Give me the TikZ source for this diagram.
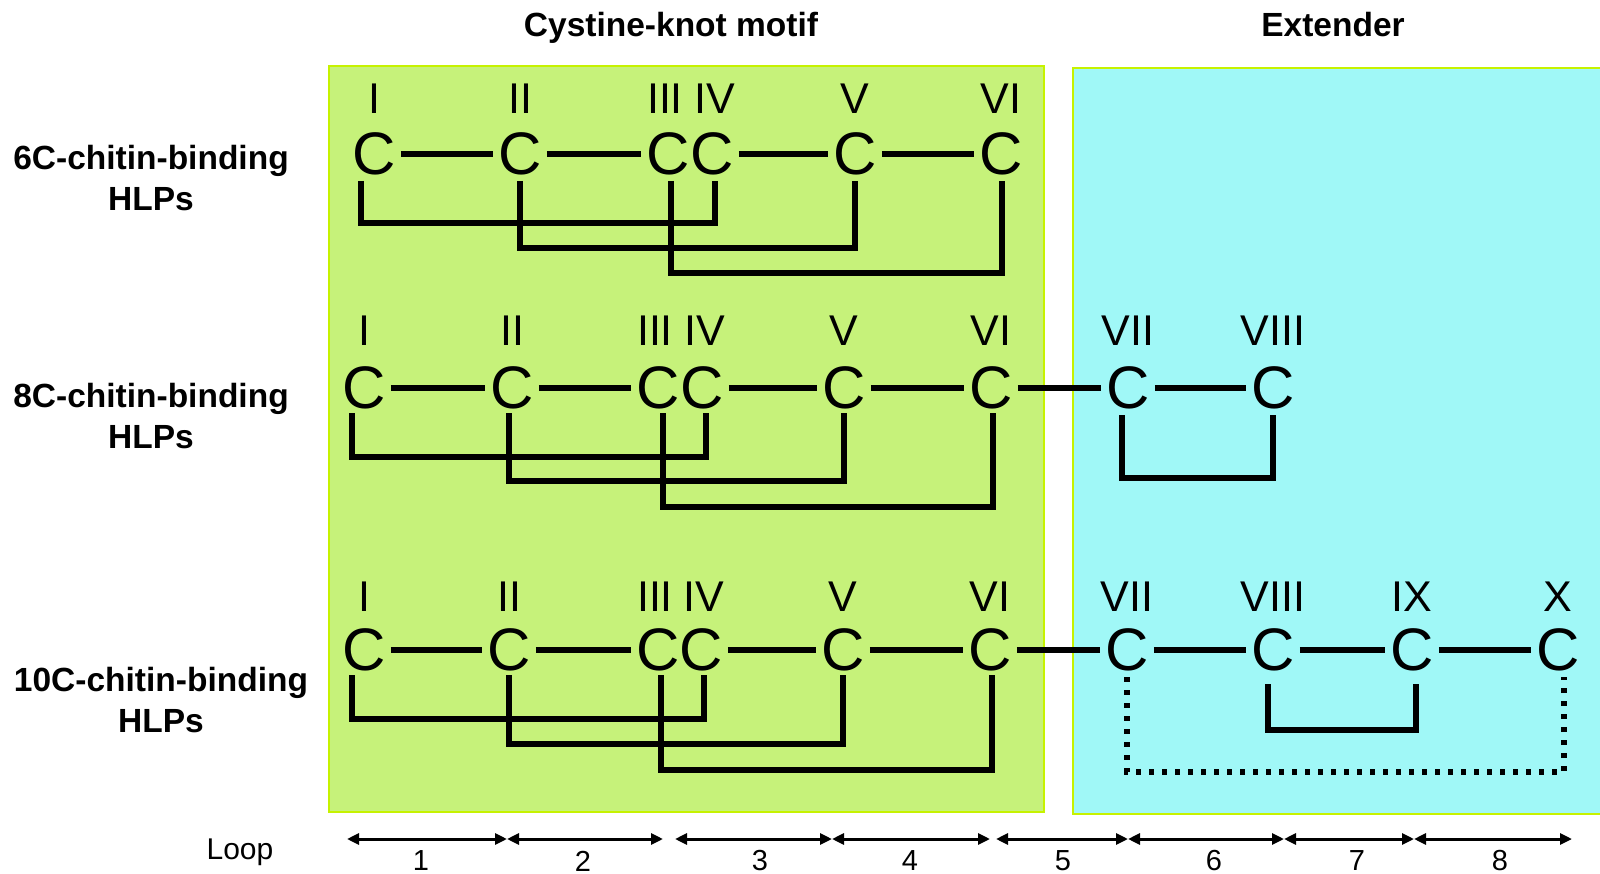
\documentclass[tikz,border=0pt]{standalone}
\usepackage{fontspec}
\setmainfont{Liberation Sans}
\usetikzlibrary{calc,arrows.meta}
\definecolor{kgreen}{RGB}{198,242,122}
\definecolor{kcyan}{RGB}{160,248,247}
\definecolor{kedge}{RGB}{198,242,0}
\tikzset{
 cys/.style={font=\fontsize{60}{60}\selectfont, inner sep=0pt},
 rom/.style={font=\fontsize{43}{43}\selectfont, inner sep=0pt},
 bond/.style={line width=6.5pt, shorten <=5pt, shorten >=5pt},
 ss/.style={line width=6.5pt, line join=miter},
 ssdot/.style={line width=5.5pt, dash pattern=on 5pt off 8pt},
 lab/.style={font=\bfseries\fontsize{33.5}{41}\selectfont, align=center, inner sep=0pt},
 ttl/.style={font=\bfseries\fontsize{33.5}{33}\selectfont, inner sep=0pt, anchor=base},
 loopar/.style={line width=3pt, {Triangle[length=12pt,width=11pt]}-{Triangle[length=12pt,width=11pt]}},
 loopnum/.style={font=\fontsize{29}{29}\selectfont, inner sep=0pt},
 box/.style={draw=kedge, line width=2pt},
}
\begin{document}
\begin{tikzpicture}[x=1pt,y=-1pt]
\useasboundingbox (0,0) rectangle (1600,874);
% boxes
\filldraw[box, fill=kgreen] (329,66) rectangle (1044,812);
\filldraw[box, fill=kcyan] (1073,68) rectangle (1610,814);
% titles
\node[ttl] (t1) at (671,37) {Cystine-knot motif};
\node[ttl] (t2) at (1333,37) {Extender};
% left labels
\node[lab] (l1) at (151,178) {6C-chitin-binding\\HLPs};
\node[lab] (l2) at (151,416) {8C-chitin-binding\\HLPs};
\node[lab] (l3) at (161,700) {10C-chitin-binding\\HLPs};
% row 1
\foreach \i/\x/\r/\d in {1/374/I/0,2/520/II/0,3/668/III/-3,4/712/IV/3,5/855/V/0,6/1001/VI/0}{
  \node[cys] (a\i) at (\x,154) {C};
  \node[rom] (ra\i) at (\x+\d,99) {\r};
}
\draw[bond] (a1) -- (a2);
\draw[bond] (a2) -- (a3);
\draw[bond] (a4) -- (a5);
\draw[bond] (a5) -- (a6);
\draw[ss] ($(a1)+(-13,27)$) |- ($(a4)+(3,69)$) -- ($(a4)+(3,27)$);
\draw[ss] ($(a2)+(0,27)$) |- ($(a5)+(0,94)$) -- ($(a5)+(0,27)$);
\draw[ss] ($(a3)+(3,27)$) |- ($(a6)+(1,119)$) -- ($(a6)+(1,27)$);
% row 2
\foreach \i/\x/\r/\d in {1/364/I/0,2/512/II/0,3/658/III/-3,4/702/IV/3,5/844/V/0,6/991/VI/0,7/1128/VII/0,8/1273/VIII/0}{
  \node[cys] (b\i) at (\x,388) {C};
  \node[rom] (rb\i) at (\x+\d,331) {\r};
}
\draw[bond] (b1) -- (b2);
\draw[bond] (b2) -- (b3);
\draw[bond] (b4) -- (b5);
\draw[bond] (b5) -- (b6);
\draw[bond] (b6) -- (b7);
\draw[bond] (b7) -- (b8);
\draw[ss] ($(b1)+(-12,25)$) |- ($(b4)+(4,69)$) -- ($(b4)+(4,25)$);
\draw[ss] ($(b2)+(-3,25)$) |- ($(b5)+(0,93)$) -- ($(b5)+(0,25)$);
\draw[ss] ($(b3)+(5,25)$) |- ($(b6)+(2,119)$) -- ($(b6)+(2,25)$);
\draw[ss] ($(b7)+(-6,27)$) |- ($(b8)+(0,90)$) -- ($(b8)+(0,27)$);
% row 3
\foreach \i/\x/\r/\d in {1/364/I/0,2/509/II/0,3/658/III/-3,4/701/IV/3,5/843/V/0,6/990/VI/0,7/1127/VII/0,8/1273/VIII/0,9/1412/IX/0,10/1558/X/0}{
  \node[cys] (c\i) at (\x,650) {C};
  \node[rom] (rc\i) at (\x+\d,597) {\r};
}
\draw[bond] (c1) -- (c2);
\draw[bond] (c2) -- (c3);
\draw[bond] (c4) -- (c5);
\draw[bond] (c5) -- (c6);
\draw[bond] (c6) -- (c7);
\draw[bond] (c7) -- (c8);
\draw[bond] (c8) -- (c9);
\draw[bond] (c9) -- (c10);
\draw[ss] ($(c1)+(-12,25)$) |- ($(c4)+(3,69)$) -- ($(c4)+(3,25)$);
\draw[ss] ($(c2)+(0,25)$) |- ($(c5)+(0,94)$) -- ($(c5)+(0,25)$);
\draw[ss] ($(c3)+(3,25)$) |- ($(c6)+(2,120)$) -- ($(c6)+(2,25)$);
\draw[ss] ($(c8)+(-5,34)$) |- ($(c9)+(4,80)$) -- ($(c9)+(4,34)$);
\draw[ssdot] ($(c7)+(0,27)$) |- ($(c10)+(6,122)$) -- ($(c10)+(6,27)$);
% loops
\node[font=\fontsize{30}{30}\selectfont, inner sep=0pt, anchor=base] (loop) at (240,859) {Loop};
\foreach \n/\x in {0/347,1/507,2/663,3/675,4/832,5/990,6/996,7/1128,8/1284,9/1414,10/1572}{
  \coordinate (p\n) at (\x,839);
}
\draw[loopar] (p0) -- (p1);
\draw[loopar] (p1) -- (p2);
\draw[loopar] (p3) -- (p4);
\draw[loopar] (p4) -- (p5);
\draw[loopar] (p6) -- (p7);
\draw[loopar] (p7) -- (p8);
\draw[loopar] (p8) -- (p9);
\draw[loopar] (p9) -- (p10);
\foreach \n/\x in {1/421,2/583,3/760,4/910,5/1063,6/1214,7/1357,8/1500}{
  \node[loopnum] (n\n) at (\x,861) {\n};
}
\end{tikzpicture}
\end{document}
